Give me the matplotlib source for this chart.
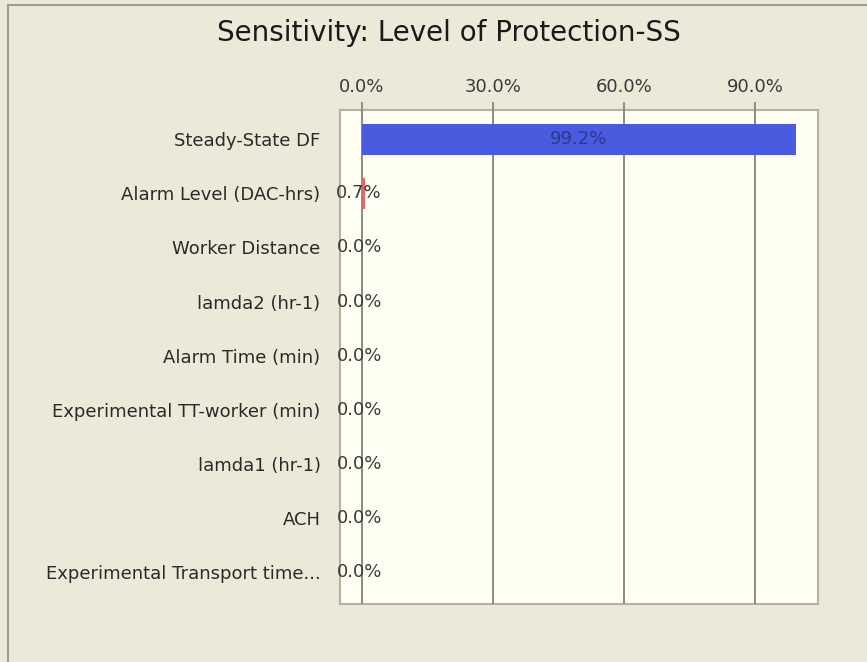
import matplotlib
matplotlib.use("Agg")
import matplotlib.pyplot as plt
from matplotlib.lines import Line2D

categories = [
    "Steady-State DF",
    "Alarm Level (DAC-hrs)",
    "Worker Distance",
    "lamda2 (hr-1)",
    "Alarm Time (min)",
    "Experimental TT-worker (min)",
    "lamda1 (hr-1)",
    "ACH",
    "Experimental Transport time...",
]
values = [99.2, 0.7, 0.0, 0.0, 0.0, 0.0, 0.0, 0.0, 0.0]
bar_colors = ["#4B5BE0", "#E06868", "#4B5BE0", "#4B5BE0", "#4B5BE0",
              "#4B5BE0", "#4B5BE0", "#4B5BE0", "#4B5BE0"]
xticks = [0, 30, 60, 90]
xtick_labels = ["0.0%", "30.0%", "60.0%", "90.0%"]
title = "Sensitivity: Level of Protection-SS"

plt.rcParams["font.family"] = ["DejaVu Sans"]

W, H = 867, 662
fig = plt.figure(figsize=(W / 100, H / 100), dpi=100, facecolor="#ECE9D8")

ax = fig.add_axes([340 / W, 1 - 604 / H, (818 - 340) / W, (604 - 110) / H])
ax.set_facecolor("#FFFFF4")

pos = list(range(len(categories)))
ax.barh(pos, values, height=0.57, color=bar_colors, zorder=3)

ax.set_xlim(-5.0, 104.3)
ax.set_ylim(8.59, -0.54)

ax.set_xticks(xticks)
ax.set_xticklabels(xtick_labels)
ax.xaxis.tick_top()
ax.tick_params(axis="x", direction="out", length=6, width=1.2, color="#808080",
               labelsize=13, labelcolor="#3A3A3A", pad=4)
ax.set_yticks(pos)
ax.set_yticklabels(categories)
ax.tick_params(axis="y", length=0, labelsize=13, labelcolor="#2A2A2A", pad=14)

ax.grid(axis="x", color="#8A8A80", linewidth=1.4, zorder=2)
ax.set_axisbelow(False)
for side, sp in ax.spines.items():
    sp.set_color("#B4B2A4")
    sp.set_linewidth(1.5)

for p, v in zip(pos, values):
    if v > 20:
        ax.text(v / 2, p, f"{v:.1f}%", ha="center", va="center",
                fontsize=13, color="#2A3A8A", zorder=4)
    else:
        ax.annotate(f"{v:.1f}%", xy=(0, p), xytext=(-2, 0),
                    textcoords="offset points", ha="center", va="center",
                    fontsize=13, color="#3A3A3A", zorder=4)

fig.text(449 / W, 1 - 33 / H, title, ha="center", va="center",
         fontsize=20, color="#1A1A1A")

# window frame lines (left and top)
fig.add_artist(Line2D([8 / W, 8 / W], [0, 1 - 5 / H], transform=fig.transFigure,
                      color="#A09C8C", linewidth=1.5))
fig.add_artist(Line2D([8 / W, 1], [1 - 5 / H, 1 - 5 / H], transform=fig.transFigure,
                      color="#A09C8C", linewidth=1.5))

fig.savefig("out.png", dpi=100, facecolor=fig.get_facecolor())
